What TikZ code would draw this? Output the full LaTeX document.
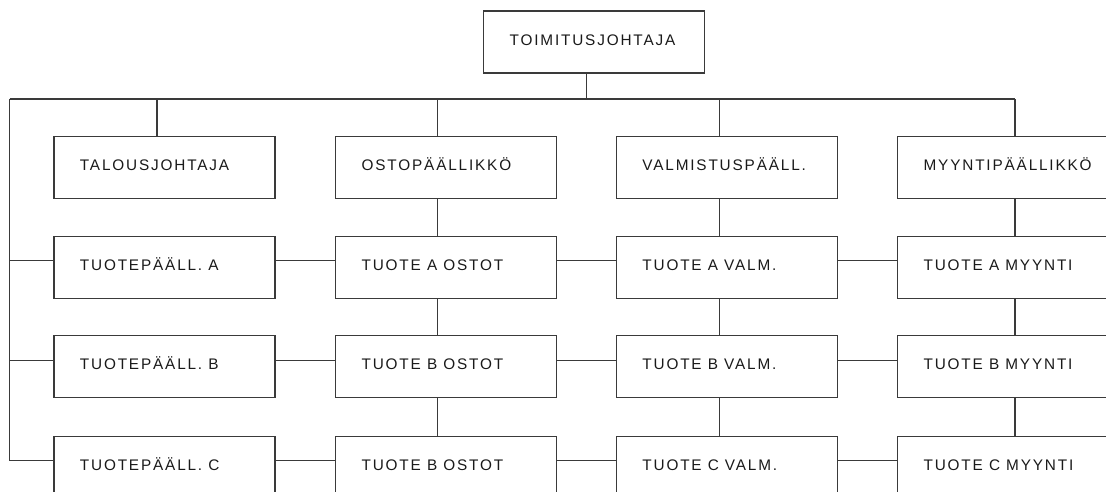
\documentclass[tikz,border=0pt]{standalone}
\usepackage{fontspec}
\setmainfont{Liberation Sans}[LetterSpace=12]
\usetikzlibrary{calc}
\definecolor{lc}{HTML}{3A3A3A}
\definecolor{tc}{HTML}{1A1A1A}
\newcommand\boxtxt[1]{\makebox[126.75pt][l]{#1}}
\tikzset{
  orgbox/.style={draw=lc, line width=0.9pt, anchor=north west,
    minimum width=165.75pt, minimum height=46.5pt, inner xsep=19.5pt, inner ysep=0pt,
    text height=7.5pt, text depth=3pt, text=tc,
    font=\fontsize{11.5}{13}\selectfont},
  link/.style={draw=lc, line width=0.9pt}
}
\begin{document}
\begin{tikzpicture}[x=0.75pt,y=-0.75pt]
\useasboundingbox (0,0) rectangle (1106,492);
\clip (0,0) rectangle (1106,492);
\fill[white] (0,0) rectangle (1106,492);
% top
\node[orgbox, minimum width=165.2pt] (top) at (483,10.5) {\boxtxt{TOIMITUSJOHTAJA}};
% row 1
\node[orgbox] (r1c1) at (53.3,135.5) {\boxtxt{TALOUSJOHTAJA}};
\node[orgbox] (r1c2) at (335,135.5) {\boxtxt{OSTOPÄÄLLIKKÖ}};
\node[orgbox] (r1c3) at (615.8,135.5) {\boxtxt{VALMISTUSPÄÄLL.}};
\node[orgbox] (r1c4) at (897,135.5) {\boxtxt{MYYNTIPÄÄLLIKKÖ}};
% row 2
\node[orgbox] (r2c1) at (53.3,235.5) {\boxtxt{TUOTEPÄÄLL. A}};
\node[orgbox] (r2c2) at (335,235.5) {\boxtxt{TUOTE A OSTOT}};
\node[orgbox] (r2c3) at (615.8,235.5) {\boxtxt{TUOTE A VALM.}};
\node[orgbox] (r2c4) at (897,235.5) {\boxtxt{TUOTE A MYYNTI}};
% row 3
\node[orgbox] (r3c1) at (53.3,335.2) {\boxtxt{TUOTEPÄÄLL. B}};
\node[orgbox] (r3c2) at (335,335.2) {\boxtxt{TUOTE B OSTOT}};
\node[orgbox] (r3c3) at (615.8,335.2) {\boxtxt{TUOTE B VALM.}};
\node[orgbox] (r3c4) at (897,335.2) {\boxtxt{TUOTE B MYYNTI}};
% row 4
\node[orgbox] (r4c1) at (53.3,435.7) {\boxtxt{TUOTEPÄÄLL. C}};
\node[orgbox] (r4c2) at (335,435.7) {\boxtxt{TUOTE B OSTOT}};
\node[orgbox] (r4c3) at (615.8,435.7) {\boxtxt{TUOTE C VALM.}};
\node[orgbox] (r4c4) at (897,435.7) {\boxtxt{TUOTE C MYYNTI}};
% helper coordinates
\coordinate (busL) at (9.7,99);
\coordinate (busR) at (1015,99);
\coordinate (vt) at (586.5,0);
\coordinate (v1) at (157,0);
\coordinate (v2) at (437.5,0);
\coordinate (v3) at (719.3,0);
\coordinate (v4) at (1015,0);
\coordinate (h2) at (0,260.2);
\coordinate (h3) at (0,360.7);
\coordinate (h4) at (0,460.3);
% bus
\draw[link] (top.south -| vt) -- (vt |- busL);
\draw[link] (busL) -- (busR);
\draw[link] (v1 |- busL) -- (r1c1.north -| v1);
\draw[link] (v2 |- busL) -- (r1c2.north -| v2);
\draw[link] (v3 |- busL) -- (r1c3.north -| v3);
\draw[link] (busR) -- (r1c4.north -| v4);
% left spine
\draw[link] (busL) -- (busL |- h4) -- (r4c1.west |- h4);
\draw[link] (busL |- h2) -- (r2c1.west |- h2);
\draw[link] (busL |- h3) -- (r3c1.west |- h3);
% verticals
\foreach \c/\v in {2/v2,3/v3,4/v4}{
  \draw[link] (r1c\c.south -| \v) -- (r2c\c.north -| \v);
  \draw[link] (r2c\c.south -| \v) -- (r3c\c.north -| \v);
  \draw[link] (r3c\c.south -| \v) -- (r4c\c.north -| \v);
}
% horizontals
\foreach \r/\h in {2/h2,3/h3,4/h4}{
  \draw[link] (r\r c1.east |- \h) -- (r\r c2.west |- \h);
  \draw[link] (r\r c2.east |- \h) -- (r\r c3.west |- \h);
  \draw[link] (r\r c3.east |- \h) -- (r\r c4.west |- \h);
}
\end{tikzpicture}
\end{document}
